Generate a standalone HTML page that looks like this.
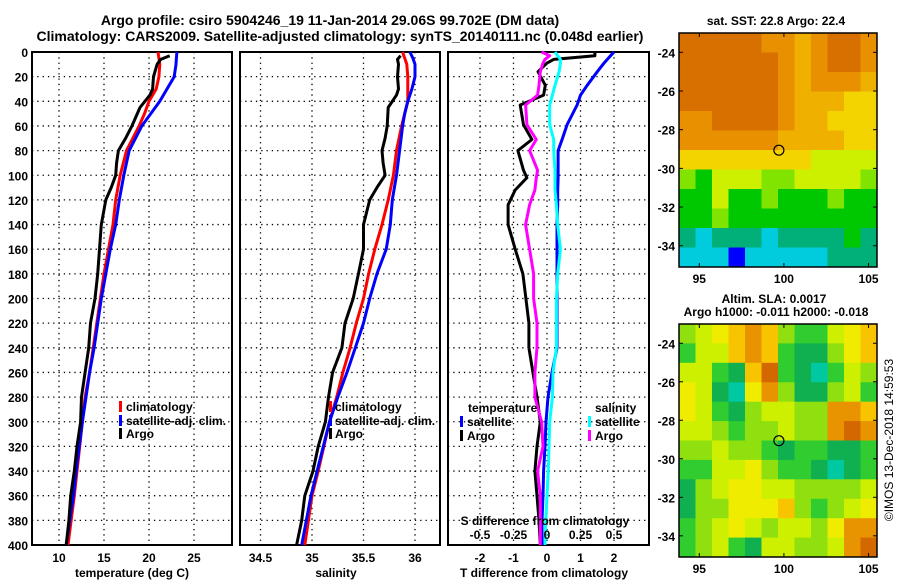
<!DOCTYPE html>
<html><head><meta charset="utf-8"><style>
body{margin:0;background:#fff}
svg text{font-family:"Liberation Sans",sans-serif;font-weight:bold;fill:#000}
</style></head><body>
<svg id="c" width="900" height="580" xmlns="http://www.w3.org/2000/svg">
<text x="330" y="25" font-size="14" text-anchor="middle">Argo profile: csiro 5904246_19 11-Jan-2014 29.06S 99.702E (DM data)</text>
<text x="340" y="41" font-size="14" text-anchor="middle">Climatology: CARS2009. Satellite-adjusted climatology: synTS_20140111.nc (0.048d earlier)</text>
<text x="776" y="25" font-size="12" text-anchor="middle">sat. SST: 22.8 Argo: 22.4</text>
<text x="774" y="303" font-size="12" text-anchor="middle">Altim. SLA: 0.0017</text>
<text x="776" y="316" font-size="12" text-anchor="middle">Argo h1000: -0.011 h2000: -0.018</text>
<text transform="translate(893,440) rotate(-90)" font-size="12" style="font-weight:normal" text-anchor="middle">©IMOS 13-Dec-2018 14:59:53</text>
</svg>
<script>
// ---- data ----
const depthT=[0,5,10,20,30,40,50,60,80,100,120,140,160,180,200,220,240,260,280,300,340,360,400];
const tempClim=[21.0,21.1,21.2,21.1,20.8,20.0,19.5,18.9,17.5,16.8,16.3,16.0,15.5,15.0,14.6,14.2,13.8,13.4,12.9,12.6,12.0,11.7,11.0];
const tempSat=[23.1,23.05,23.0,22.8,22.0,21.2,20.2,19.2,17.8,17.2,16.7,16.3,15.7,15.2,14.7,14.3,13.9,13.4,13.0,12.6,11.9,11.6,10.8];
const salClim=[35.88,35.9,35.92,35.93,35.93,35.93,35.9,35.87,35.82,35.79,35.74,35.68,35.61,35.55,35.5,35.43,35.37,35.3,35.24,35.17,35.06,35.0,34.93];
const salSat=[35.95,35.98,36.0,36.0,35.97,35.93,35.9,35.88,35.85,35.82,35.78,35.76,35.72,35.63,35.56,35.5,35.42,35.34,35.25,35.17,35.05,34.99,34.9];
const depthArgo=[3,6,10,20,30,35,45,60,70,80,90,100,110,120,140,160,180,200,220,240,260,280,300,320,340,360,380,400];
const tempArgo=[22.3,21.3,20.9,20.5,20.4,20.1,19.0,18.1,17.4,16.6,16.4,16.3,15.8,15.2,14.7,14.5,14.3,14.0,13.5,13.3,12.9,12.5,12.4,12.0,11.7,11.3,11.1,10.8];
const salArgo=[35.86,35.83,35.84,35.83,35.84,35.82,35.74,35.73,35.71,35.68,35.69,35.71,35.63,35.56,35.5,35.5,35.45,35.4,35.32,35.29,35.2,35.16,35.13,35.06,35.01,34.93,34.9,34.85];
const depthD=[0,3,6,9,16,27,35,43,59,71,80,96,102,112,124,140,160,180,200,220,240,260,280,300,320,340,360,380,400];
const tDiffSat=[2.0,1.9,1.8,1.7,1.5,1.2,1.0,0.9,0.6,0.45,0.33,0.33,0.33,0.32,0.32,0.3,0.3,0.3,0.3,0.3,0.3,0.15,0.03,-0.03,-0.06,-0.1,-0.12,-0.15,-0.15];
const tDiffArgo=[1.43,1.43,0.2,0.0,-0.27,-0.05,-0.1,-0.8,-0.7,-0.45,-0.87,-0.7,-0.6,-0.95,-1.16,-1.16,-0.95,-0.72,-0.63,-0.54,-0.54,-0.42,-0.3,-0.2,-0.3,-0.36,-0.3,-0.24,-0.2];
const sDiffSat=[0.06,0.08,0.1,0.1,0.09,0.06,0.04,0.02,0.02,0.05,0.05,0.06,0.06,0.06,0.07,0.08,0.1,0.08,0.07,0.07,0.07,0.045,0.04,0.02,0.015,0.01,0.0,-0.01,-0.015];
const sDiffArgo=[-0.04,0.02,-0.015,-0.03,-0.05,-0.06,-0.07,-0.16,-0.15,-0.08,-0.13,-0.07,-0.08,-0.09,-0.13,-0.16,-0.13,-0.1,-0.1,-0.075,-0.075,-0.09,-0.09,-0.04,-0.03,-0.07,-0.05,-0.05,-0.05];
const depthTicks=[0,20,40,60,80,100,120,140,160,180,200,220,240,260,280,300,320,340,360,380,400];
const tempTicks=[10,15,20,25];
const salTicks=[34.5,35,35.5,36];
const tDiffTicks=[-2,-1,0,1,2];
const sDiffTicks=[-0.5,-0.25,0,0.25,0.5];
const sstGrid=[
[9,9,9,9,9,8,8,7,8,9,9,8],[9,9,9,9,9,9,8,7,8,9,9,8],[9,9,9,9,9,9,8,7,8,8,8,7],
[9,9,9,9,9,9,8,7,7,7,6,6],[8,8,9,9,9,9,8,7,7,6,6,6],[8,8,8,8,8,8,7,7,7,7,6,6],
[6,6,6,6,6,6,6,6,5,5,5,5],[4,3,5,5,5,4,4,5,5,5,5,4],[3,3,5,3,3,4,3,3,3,4,3,3],
[3,3,4,3,3,3,3,3,3,3,3,3],[2,1,2,2,2,1,2,2,2,2,3,2],[1,1,1,0,1,1,1,1,1,2,2,2]];
const slaGrid=[
[3,4,5,6,7,6,3,2,2,4,5,6],[2,4,4,6,7,6,2,1,1,3,5,6],[4,4,2,1,6,8,2,1,0,2,4,3],
[5,4,1,0,5,7,3,1,1,3,4,2],[5,4,2,1,3,4,4,3,3,7,7,6],[4,4,3,2,3,3,4,3,3,7,8,7],
[3,3,4,3,3,2,1,2,2,1,1,2],[2,2,4,4,5,3,2,2,1,0,1,2],[1,3,4,5,5,4,4,3,3,3,3,4],
[1,3,3,5,5,5,6,3,2,3,4,5],[2,3,4,5,4,3,4,4,3,5,7,7],[2,3,4,2,1,4,4,3,3,4,7,8]];
const latTicks=[-24,-26,-28,-30,-32,-34];
const lonTicks=[95,100,105];
const argoPos=[99.702,-29.06];
// ---- drawing ----
const NS='http://www.w3.org/2000/svg';
const svg=document.getElementById('c');
function mk(tag,at,parent){const e=document.createElementNS(NS,tag);for(const k in at)e.setAttribute(k,at[k]);(parent||svg).appendChild(e);return e;}
const top0=52,bot0=545;
const yD=d=>top0+(d-0)*(bot0-top0)/400;
function panel(x0,x1,xmap,ticks,fmt,name){
  const g=mk('g',{});
  
  
  depthTicks.forEach(d=>{const l=mk('line',{x1:x0,x2:x1,y1:yD(d),y2:yD(d),stroke:'#000','stroke-width':1.3,'stroke-dasharray':'1.3,4'},g);
    });
  ticks.forEach(t=>{const x=xmap(t);const l=mk('line',{x1:x,x2:x,y1:top0,y2:bot0,stroke:'#000','stroke-width':1.3,'stroke-dasharray':'1.3,4'},g);
    
    if(fmt){const tx=mk('text',{x:x,y:562,'font-size':12,'text-anchor':'middle'},g);tx.textContent=fmt(t);
    }});
  const r=mk('rect',{x:x0,y:top0,width:x1-x0,height:bot0-top0,fill:'none',stroke:'#000','stroke-width':2},g);
  
  return g;
}
function line(xs,ds,xmap,color,name,g){
  const p=xs.map((v,i)=>xmap(v).toFixed(1)+','+yD(ds[i]).toFixed(1)).join(' ');
  const e=mk('polyline',{points:p,fill:'none',stroke:color,'stroke-width':3,'stroke-linejoin':'round'},g);
  
  
}
function txt(x,y,s,size,name,anchor){const t=mk('text',{x:x,y:y,'font-size':size,'text-anchor':anchor||'start'});t.textContent=s;
  return t;}
function legMark(x,y,c){const r=mk('rect',{x:x,y:y-10,width:3,height:11,fill:c});}
depthTicks.forEach(d=>txt(28,yD(d)+5,String(d),12,'y-tick-label','end'));
// panel 1
const xT=t=>59+(t-10)*9;
const g1=panel(32,232,xT,tempTicks,String,'temperature-panel');
line(tempClim,depthT,xT,'#f00','temp-climatology-line',g1);
line(tempSat,depthT,xT,'#00f','temp-satellite-line',g1);
line(tempArgo,depthArgo,xT,'#000','temp-argo-line',g1);
txt(132,577,'temperature (deg C)',12,'x-axis-title','middle');
legMark(119,411,'#f00');txt(126,411,'climatology',12,'legend-entry');
legMark(119,425,'#00f');txt(126,425,'satellite-adj. clim.',12,'legend-entry');
legMark(119,438,'#000');txt(126,438,'Argo',12,'legend-entry');
// panel 2
const xS=s=>312+(s-35)*103;
const g2=panel(240,440,xS,salTicks,String,'salinity-panel');
line(salClim,depthT,xS,'#f00','sal-climatology-line',g2);
line(salSat,depthT,xS,'#00f','sal-satellite-line',g2);
line(salArgo,depthArgo,xS,'#000','sal-argo-line',g2);
txt(336,577,'salinity',12,'x-axis-title','middle');
legMark(329,411,'#f00');txt(335,411,'climatology',12,'legend-entry');
legMark(329,425,'#00f');txt(335,425,'satellite-adj. clim.',12,'legend-entry');
legMark(329,438,'#000');txt(335,438,'Argo',12,'legend-entry');
// panel 3
const xTD=d=>547+d*33.5;
const xSD=d=>547+d*134;
const g3=panel(448,649,xTD,tDiffTicks,String,'difference-panel');
line(tDiffSat,depthD,xTD,'#00f','tdiff-satellite-line',g3);
line(tDiffArgo,depthD,xTD,'#000','tdiff-argo-line',g3);
line(sDiffSat,depthD,xSD,'#0ff','sdiff-satellite-line',g3);
line(sDiffArgo,depthD,xSD,'#f0f','sdiff-argo-line',g3);
txt(544,577,'T difference from climatology',12,'x-axis-title','middle');
txt(545,525,'S difference from climatology',12,'s-axis-title','middle');
sDiffTicks.forEach(t=>txt(xSD(t),539,String(t),12,'s-tick-label','middle'));
txt(468,412,'temperature',12,'legend-title');
legMark(460,426,'#00f');txt(467,426,'satellite',12,'legend-entry');
legMark(460,440,'#000');txt(467,440,'Argo',12,'legend-entry');
txt(595,412,'salinity',12,'legend-title');
legMark(588,426,'#0ff');txt(595,426,'satellite',12,'legend-entry');
legMark(588,440,'#f0f');txt(595,440,'Argo',12,'legend-entry');
// maps
const sstColors=['#0000ff','#00ccdd','#00b078','#00c800','#80e400','#ccf000','#f4d400','#f0b000','#e89000','#d87000','#ff2020'];
const slaColors=['#00c8a0','#10b050','#30cc30','#90e010','#ccf000','#f0ec00','#f8c400','#e89400','#d46800'];
function map(x0,y0,x1,y1,grid,colors,name){
  const g=mk('g',{});
  
  
  const lon0=93.8,lon1=105.5,lat0=-23,lat1=-35.1;
  const X=l=>x0+(l-lon0)*(x1-x0)/(lon1-lon0);
  const Y=l=>y0+(l-lat0)*(y1-y0)/(lat1-lat0);
  const nr=grid.length,nc=grid[0].length;
  grid.forEach((row,i)=>row.forEach((v,j)=>{
    const c=mk('rect',{x:(x0+j*(x1-x0)/nc).toFixed(1),y:(y0+i*(y1-y0)/nr).toFixed(1),width:((x1-x0)/nc+0.5).toFixed(1),height:((y1-y0)/nr+0.5).toFixed(1),fill:colors[v]},g);
    
    
  }));
  const f=mk('rect',{x:x0,y:y0,width:x1-x0,height:y1-y0,fill:'none',stroke:'#000','stroke-width':1.5},g);
  
  latTicks.forEach(l=>{const y=Y(l);mk('line',{x1:x0,x2:x0+4,y1:y,y2:y,stroke:'#000'},g);mk('line',{x1:x1-4,x2:x1,y1:y,y2:y,stroke:'#000'},g);
    txt(675,y+5,String(l),12,'lat-tick-label','end');});
  lonTicks.forEach(l=>{const x=X(l);mk('line',{x1:x,x2:x,y1:y0,y2:y0+4,stroke:'#000'},g);mk('line',{x1:x,x2:x,y1:y1-4,y2:y1,stroke:'#000'},g);
    txt(x,y1+16,String(l),12,'lon-tick-label','middle');});
  const m=mk('circle',{cx:X(argoPos[0]),cy:Y(argoPos[1]),r:5,fill:'none',stroke:'#000','stroke-width':1.2},g);
  
}
map(679,33,877,267,sstGrid,sstColors,'sst-map');
map(679,324,877,557,slaGrid,slaColors,'sla-map');
</script>
</body></html>
